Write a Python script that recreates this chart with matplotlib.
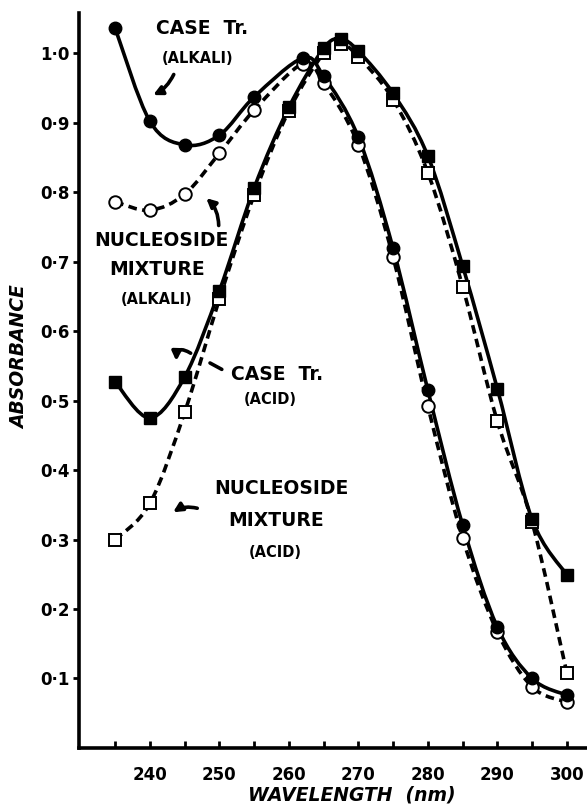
import matplotlib
matplotlib.use("Agg")
import matplotlib.pyplot as plt
from matplotlib.path import Path
from matplotlib.patches import PathPatch

# wavelengths (nm) and absorbance
wl_case_alk = [235, 240, 245, 250, 255, 262, 265, 270, 275, 280, 285, 290, 295, 300]
ab_case_alk = [1.036, 0.902, 0.868, 0.882, 0.937, 0.993, 0.967, 0.879, 0.719, 0.515, 0.321, 0.174, 0.100, 0.076]

wl_nuc_alk = [235, 240, 245, 250, 255, 262, 265, 270, 275, 280, 285, 290, 295, 300]
ab_nuc_alk = [0.786, 0.774, 0.797, 0.856, 0.918, 0.985, 0.957, 0.868, 0.706, 0.492, 0.302, 0.167, 0.088, 0.066]

wl_case_acid = [235, 240, 245, 250, 255, 260, 265, 267.5, 270, 275, 280, 285, 290, 295, 300]
ab_case_acid = [0.527, 0.475, 0.534, 0.658, 0.806, 0.922, 1.007, 1.020, 1.003, 0.942, 0.852, 0.694, 0.517, 0.329, 0.249]

wl_nuc_acid = [235, 240, 245, 250, 255, 260, 265, 267.5, 270, 275, 280, 285, 290, 295, 300]
ab_nuc_acid = [0.300, 0.352, 0.483, 0.646, 0.796, 0.917, 1.000, 1.013, 0.995, 0.933, 0.828, 0.664, 0.470, 0.325, 0.108]

x_ticks = [235, 240, 245, 250, 255, 260, 265, 270, 275, 280, 285, 290, 295, 300]
x_labels = ['', '240', '', '250', '', '260', '', '270', '', '280', '', '290', '', '300']
y_ticks = [0.1, 0.2, 0.3, 0.4, 0.5, 0.6, 0.7, 0.8, 0.9, 1.0]
y_labels = ['0·1', '0·2', '0·3', '0·4', '0·5', '0·6', '0·7', '0·8', '0·9', '1·0']

plt.rcParams['font.family'] = 'DejaVu Sans'
plt.rcParams['font.weight'] = 'bold'


def smooth_path(xs, ys):
    # Catmull-Rom through the points, drawn as cubic bezier segments
    pts = list(zip(xs, ys))
    n = len(pts)
    verts = [pts[0]]
    codes = [Path.MOVETO]
    for i in range(n - 1):
        p0 = pts[max(i - 1, 0)]
        p1 = pts[i]
        p2 = pts[i + 1]
        p3 = pts[min(i + 2, n - 1)]
        c1 = (p1[0] + (p2[0] - p0[0]) / 6, p1[1] + (p2[1] - p0[1]) / 6)
        c2 = (p2[0] - (p3[0] - p1[0]) / 6, p2[1] - (p3[1] - p1[1]) / 6)
        verts += [c1, c2, p2]
        codes += [Path.CURVE4] * 3
    return Path(verts, codes)


fig = plt.figure(figsize=(5.87, 8.06), dpi=100)
ax = fig.add_axes([0.1346, 0.072, 0.8654, 0.912])

dash = (0, (2.4, 1.5))
ax.add_patch(PathPatch(smooth_path(wl_nuc_alk, ab_nuc_alk), fill=False, lw=2.6, ls=dash, ec='k', zorder=2))
ax.add_patch(PathPatch(smooth_path(wl_nuc_acid, ab_nuc_acid), fill=False, lw=2.6, ls=dash, ec='k', zorder=2))
ax.add_patch(PathPatch(smooth_path(wl_case_alk, ab_case_alk), fill=False, lw=2.6, ec='k', zorder=3))
ax.add_patch(PathPatch(smooth_path(wl_case_acid, ab_case_acid), fill=False, lw=2.6, ec='k', zorder=3))

ax.plot(wl_nuc_alk, ab_nuc_alk, 'o', ms=9, mfc='white', mec='k', mew=1.4, ls='none', zorder=4)
ax.plot(wl_nuc_acid, ab_nuc_acid, 's', ms=8.5, mfc='white', mec='k', mew=1.4, ls='none', zorder=4)
ax.plot(wl_case_alk, ab_case_alk, 'o', ms=9, mfc='k', mec='k', ls='none', zorder=5)
ax.plot(wl_case_acid, ab_case_acid, 's', ms=8.5, mfc='k', mec='k', ls='none', zorder=5)

ax.set_xlim(229.8, 302.9)
ax.set_ylim(0, 1.058)
ax.set_xticks(x_ticks)
ax.set_xticklabels(x_labels)
ax.set_yticks(y_ticks)
ax.set_yticklabels(y_labels)
ax.tick_params(axis='x', direction='in', length=5, width=2, labelsize=12, pad=13)
ax.tick_params(axis='y', direction='out', length=4, width=2, labelsize=12, pad=3)
for s in ['top', 'right']:
    ax.spines[s].set_visible(False)
for s in ['left', 'bottom']:
    ax.spines[s].set_linewidth(2.6)

# labels on the curves
big = 13.5
small = 10.5
ax.text(247.5, 1.035, 'CASE  Tr.', fontsize=big, ha='center', va='center')
ax.text(246.9, 0.993, '(ALKALI)', fontsize=small, ha='center', va='center')
ax.text(241.6, 0.731, 'NUCLEOSIDE', fontsize=big, ha='center', va='center')
ax.text(241.0, 0.688, 'MIXTURE', fontsize=big, ha='center', va='center')
ax.text(241.0, 0.645, '(ALKALI)', fontsize=small, ha='center', va='center')
ax.text(258.3, 0.538, 'CASE  Tr.', fontsize=big, ha='center', va='center')
ax.text(257.3, 0.501, '(ACID)', fontsize=small, ha='center', va='center')
ax.text(258.85, 0.374, 'NUCLEOSIDE', fontsize=big, ha='center', va='center')
ax.text(258.1, 0.327, 'MIXTURE', fontsize=big, ha='center', va='center')
ax.text(258.0, 0.282, '(ACID)', fontsize=small, ha='center', va='center')

arrow = dict(arrowstyle='-|>', color='k', lw=2.6, mutation_scale=13)
ax.annotate('', xy=(240.1, 0.938), xytext=(243.6, 0.973),
            arrowprops=dict(arrow, connectionstyle='arc3,rad=-0.2'))
ax.annotate('', xy=(247.8, 0.794), xytext=(249.9, 0.748),
            arrowprops=dict(arrow, connectionstyle='arc3,rad=0.25'))
ax.annotate('', xy=(248.3, 0.556), xytext=(250.7, 0.543),
            arrowprops=dict(arrowstyle='-', color='k', lw=2.6))
ax.annotate('', xy=(243.8, 0.553), xytext=(246.2, 0.566),
            arrowprops=dict(arrow, connectionstyle='arc3,rad=1.0'))
ax.annotate('', xy=(243.0, 0.337), xytext=(247.2, 0.344),
            arrowprops=dict(arrow, connectionstyle='arc3,rad=0.25'))

fig.text(0.034, 0.557, 'ABSORBANCE', rotation=90, fontsize=13.5, style='italic',
         ha='center', va='center')
fig.text(0.60, 0.014, 'WAVELENGTH  (nm)', fontsize=13.5, style='italic',
         ha='center', va='center')

fig.savefig('out.png', dpi=100)
